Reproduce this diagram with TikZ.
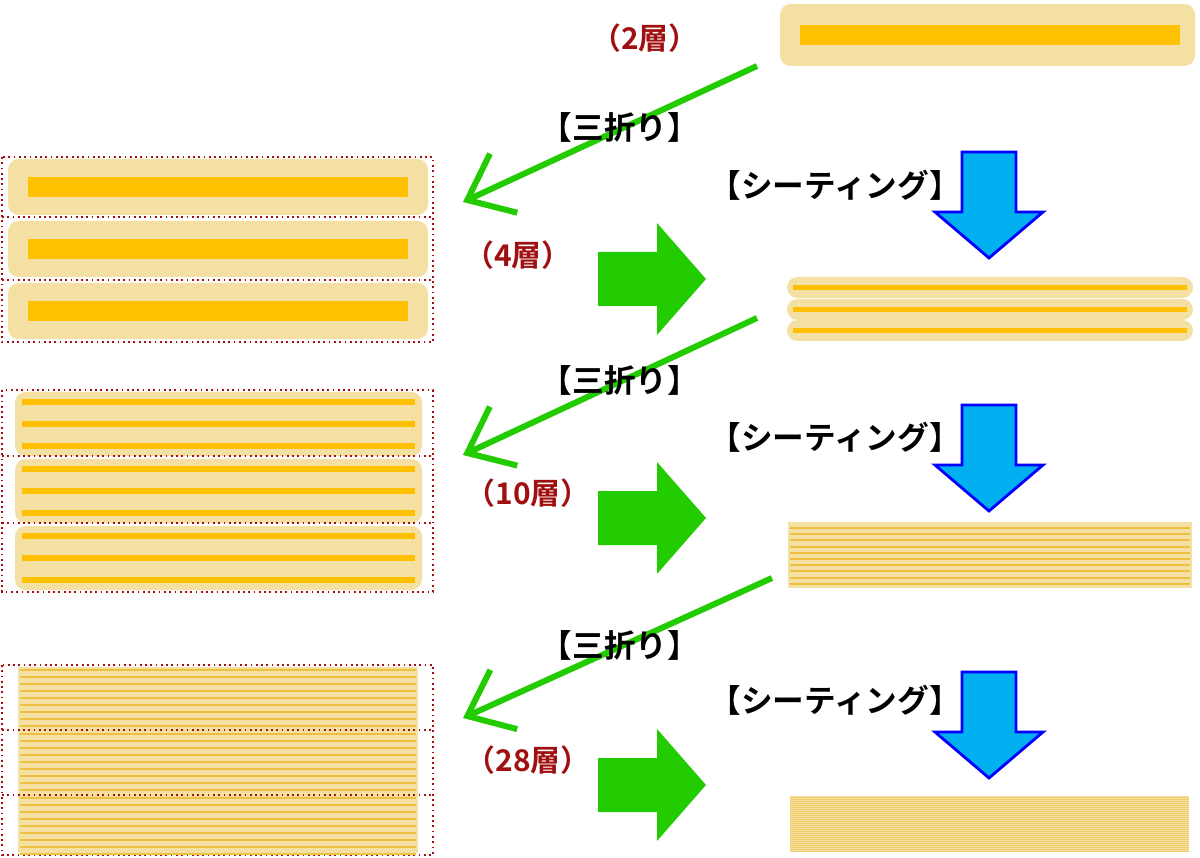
\documentclass[tikz,border=0pt]{standalone}
\usepackage{fontspec}
\setmainfont{Noto Sans CJK JP}[BoldFont={* Bold}]
\usetikzlibrary{arrows.meta}
\definecolor{pale}{HTML}{F5E0A3}
\definecolor{gold}{HTML}{FFC000}
\definecolor{leaf}{HTML}{22CC00}
\definecolor{sky}{HTML}{00B0F0}
\definecolor{brick}{HTML}{A01010}
\definecolor{thread}{HTML}{EEC040}
\tikzset{
  fold/.style={draw=leaf, line width=1.7pt, -{Straight Barb[length=4mm,width=6.5mm,line width=1.7pt]}},
  tag/.style={font=\bfseries\fontsize{9}{10}\selectfont},
  layers/.style={font=\bfseries\fontsize{8.5}{10}\selectfont, text=brick},
  frame/.style={draw=brick, densely dotted, line width=0.5pt},
  slab/.style={fill=pale, rounded corners=3pt},
}
\newcommand{\downarrowbox}[2]{% x, top y
  \draw[draw=blue, fill=sky, line width=0.8pt] (#1-27,#2) -- (#1+27,#2) -- (#1+27,#2+60)
    -- (#1+54,#2+60) -- (#1,#2+106) -- (#1-54,#2+60) -- (#1-27,#2+60) -- cycle;}
\newcommand{\rightarrowbox}[1]{% center y
  \fill[leaf] (598,#1-27) -- (657,#1-27) -- (657,#1-56) -- (706,#1) -- (657,#1+56)
    -- (657,#1+27) -- (598,#1+27) -- cycle;}
\begin{document}
\begin{tikzpicture}[x=0.01cm,y=-0.01cm]
\useasboundingbox (0,0) rectangle (1200,858);
% step 0
\fill[slab] (780,4) rectangle (1195,66);
\fill[gold] (800,25) rectangle (1180,45);
\node[layers] (n2) at (645,38) {（2層）};
% fold 1
\coordinate (f1a) at (757,66); \coordinate (f1b) at (463,202);
\draw[fold] (f1a) -- (f1b);
\node[tag] (t1) at (620,127) {【三折り】};
\draw[frame] (2,157) rectangle (433,342);
\foreach \y in {159,221,283}{
  \fill[slab] (8,\y) rectangle (428,\y+56);
  \fill[gold] (28,\y+18) rectangle (408,\y+38);
}
\draw[frame] (2,217) -- (433,217) (2,280) -- (433,280);
\node[layers] (n4) at (518,255) {（4層）};
\rightarrowbox{279}
% sheeting 1
\node[tag] (s1) at (835,185) {【シーティング】};
\downarrowbox{989}{152}
\foreach \y in {277,299,320}{
  \fill[slab] (787,\y) rectangle (1193,\y+21);
  \fill[gold] (793,\y+8) rectangle (1187,\y+13);
}
% fold 2
\coordinate (f2a) at (757,318); \coordinate (f2b) at (463,455);
\draw[fold] (f2a) -- (f2b);
\node[tag] (t2) at (620,380) {【三折り】};
\draw[frame] (2,390) rectangle (433,592);
\foreach \y in {392,459,526}{
  \fill[slab] (15,\y) rectangle (422,\y+64);
  \foreach \d in {10,32,54}
    \fill[gold] (22,\y+\d-3) rectangle (415,\y+\d+3);
}
\draw[frame] (2,456) -- (433,456) (2,523) -- (433,523);
\node[layers] (n10) at (528,493) {（10層）};
\rightarrowbox{518}
% sheeting 2
\node[tag] (s2) at (835,437) {【シーティング】};
\downarrowbox{989}{405}
\fill[pale] (788,522) rectangle (1192,588);
\foreach \i in {0,...,9}
  \draw[thread, line width=0.6pt] (790,528+6.2*\i) -- (1190,528+6.2*\i);
% fold 3
\coordinate (f3a) at (772,578); \coordinate (f3b) at (463,718);
\draw[fold] (f3a) -- (f3b);
\node[tag] (t3) at (620,645) {【三折り】};
\draw[frame] (2,665) rectangle (433,855);
\fill[pale] (18,667) rectangle (418,853);
\foreach \y in {667,731,795}
  \foreach \i in {0,...,8}
    \draw[thread, line width=0.6pt] (20,\y+3+7*\i) -- (416,\y+3+7*\i);
\draw[frame] (2,730) -- (433,730) (2,795) -- (433,795);
\node[layers] (n28) at (528,760) {（28層）};
\rightarrowbox{785}
% sheeting 3
\node[tag] (s3) at (835,700) {【シーティング】};
\downarrowbox{989}{672}
\fill[pale] (790,796) rectangle (1189,852);
\foreach \i in {0,...,27}
  \draw[thread!60!pale, line width=0.25pt] (790,797+2*\i) -- (1189,797+2*\i);
\end{tikzpicture}
\end{document}
